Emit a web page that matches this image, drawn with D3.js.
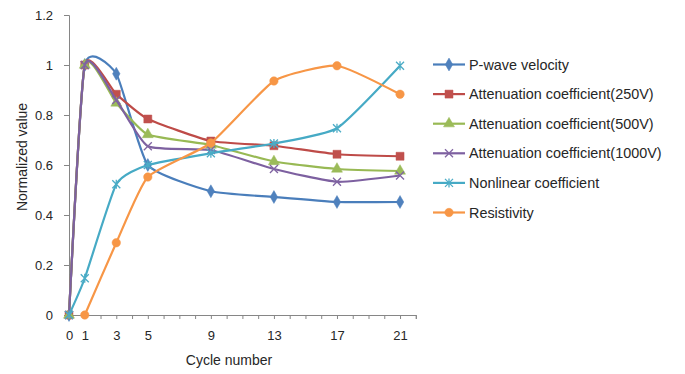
<!DOCTYPE html>
<html>
<head>
<meta charset="utf-8">
<script src="https://cdn.jsdelivr.net/npm/d3@7"></script>
<style>
  html, body { margin: 0; padding: 0; background: #fff; }
  svg { display: block; font-family: "Liberation Sans", Arial, sans-serif; }
</style>
</head>
<body>
<svg id="chart" width="685" height="374"></svg>
<script>
// Cycle numbers at which each quantity was measured
const cycles = [0, 1, 3, 5, 9, 13, 17, 21];
const xTickLabels = [0, 1, 3, 5, 9, 13, 17, 21];
const yTicks = [0, 0.2, 0.4, 0.6, 0.8, 1, 1.2];

// Normalized series values (null = not measured)
const pWave      = [0, 1.00, 0.965, 0.60, 0.495, 0.472, 0.452, 0.452];
const att250     = [0, 1.00, 0.883, 0.784, 0.696, 0.677, 0.643, 0.635];
const att500     = [0, 1.00, 0.848, 0.722, 0.680, 0.614, 0.584, 0.576];
const att1000    = [0, 1.00, 0.860, 0.675, 0.660, 0.584, 0.533, 0.558];
const nonlinear  = [0, 0.147, 0.523, 0.600, 0.647, 0.686, 0.747, 0.997];
const resistivity = [null, 0, 0.289, 0.552, 0.688, 0.936, 0.997, 0.883];

const seriesNames = [
  "P-wave velocity",
  "Attenuation coefficient(250V)",
  "Attenuation coefficient(500V)",
  "Attenuation coefficient(1000V)",
  "Nonlinear coefficient",
  "Resistivity"
];
const seriesValues = [pWave, att250, att500, att1000, nonlinear, resistivity];
const lineColors   = ["#4A7EBB", "#BE4B48", "#98B954", "#7D60A0", "#46AAC5", "#F79646"];
const markerColors = ["#4F81BD", "#C0504D", "#9BBB59", "#8064A2", "#4BACC6", "#F79646"];
const markerKinds  = ["diamond", "square", "triangle", "x", "star", "circle"];

const svg = d3.select("#chart");
const x = d3.scaleLinear().domain([0, 22]).range([69, 415.8]);
const y = d3.scaleLinear().domain([0, 1.2]).range([315, 15]);

const axisColor = "#868686";
const textColor = "#262626";

// Y axis
const yAxis = svg.append("g").attr("transform", `translate(${x(0)},0)`)
  .call(d3.axisLeft(y).tickValues(yTicks).tickSize(5).tickPadding(11)
    .tickFormat(d => d3.format("~g")(d)));
yAxis.select(".domain").attr("stroke", axisColor);
yAxis.selectAll(".tick line").attr("stroke", axisColor);
yAxis.selectAll(".tick text").attr("fill", textColor).style("font-size", "13px");

// X axis: a tick at every cycle, labels only at measured cycles
const xAxis = svg.append("g").attr("transform", `translate(0,${y(0)})`)
  .call(d3.axisBottom(x).tickValues(d3.range(0, 23)).tickSize(4).tickPadding(12)
    .tickFormat(d => xTickLabels.includes(d) ? d : ""));
xAxis.select(".domain").attr("stroke", axisColor);
xAxis.selectAll(".tick line").attr("stroke", axisColor);
xAxis.selectAll(".tick text").attr("fill", textColor).style("font-size", "13px");

// Axis titles
svg.append("text")
  .attr("x", 229).attr("y", 365)
  .attr("text-anchor", "middle")
  .attr("fill", textColor)
  .style("font-size", "14px")
  .text("Cycle number");
svg.append("text")
  .attr("transform", "translate(27,157) rotate(-90)")
  .attr("text-anchor", "middle")
  .attr("fill", textColor)
  .style("font-size", "14px")
  .text("Normalized value");

// Marker shapes
function markerPath(kind) {
  switch (kind) {
    case "diamond": return d3.symbol(d3.symbolDiamond, 48)();
    case "square": return d3.symbol(d3.symbolSquare, 64)();
    case "triangle": return d3.symbol(d3.symbolTriangle, 52)();
    case "circle": return d3.symbol(d3.symbolCircle, 56)();
    case "x": return "M-4,-4L4,4M-4,4L4,-4";
    case "star": return "M-4,-4L4,4M-4,4L4,-4M0,-4.5L0,4.5";
  }
}
function drawMarker(g, kind, color) {
  const p = g.append("path").attr("d", markerPath(kind));
  if (kind === "x" || kind === "star") {
    p.attr("fill", "none").attr("stroke", color).attr("stroke-width", 1.3);
  } else {
    p.attr("fill", color).attr("stroke", color).attr("stroke-width", 0.5);
  }
}

const line = d3.line()
  .defined(d => d.v !== null)
  .x(d => x(d.c))
  .y(d => y(d.v))
  .curve(d3.curveCardinal.tension(0.5));

const plot = svg.append("g");
seriesValues.forEach((vals, i) => {
  const pts = cycles.map((c, k) => ({ c, v: vals[k] })).filter(d => d.v !== null);
  const g = plot.append("g");
  g.append("path")
    .datum(pts)
    .attr("d", line)
    .attr("fill", "none")
    .attr("stroke", lineColors[i])
    .attr("stroke-width", 2.2);
  pts.forEach(d => {
    const m = g.append("g").attr("transform", `translate(${x(d.c)},${y(d.v)})`);
    drawMarker(m, markerKinds[i], markerColors[i]);
  });
});

// Legend
const legend = svg.append("g");
seriesNames.forEach((name, i) => {
  const ly = 64.5 + i * 29.6;
  const row = legend.append("g");
  row.append("line")
    .attr("x1", 433).attr("x2", 465).attr("y1", ly).attr("y2", ly)
    .attr("stroke", lineColors[i]).attr("stroke-width", 2.2);
  const m = row.append("g").attr("transform", `translate(449,${ly})`);
  drawMarker(m, markerKinds[i], markerColors[i]);
  row.append("text")
    .attr("x", 469).attr("y", ly).attr("dy", "0.35em")
    .attr("fill", textColor)
    .style("font-size", "14.4px")
    .text(name);
});
</script>
</body>
</html>
